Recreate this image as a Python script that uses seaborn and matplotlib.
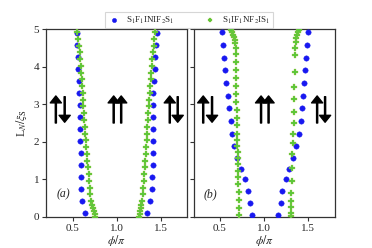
import matplotlib
matplotlib.use("Agg")
import matplotlib.pyplot as plt
import pandas as pd
import seaborn as sns

# ---- panel (a) ----
blue_L_a = [0.10, 0.42, 0.74, 1.06, 1.38, 1.70, 2.02, 2.34, 2.66, 2.98, 3.30, 3.62, 3.94, 4.26, 4.58, 4.90]
blue_left_a = [0.643, 0.61, 0.60, 0.597, 0.593, 0.59, 0.586, 0.582, 0.582, 0.578, 0.575, 0.571, 0.564, 0.56, 0.553, 0.545]
blue_right_a = [1.346, 1.376, 1.395, 1.40, 1.407, 1.407, 1.407, 1.41, 1.41, 1.41, 1.415, 1.42, 1.43, 1.437, 1.444, 1.45]

green_L_a = [0.0, 0.08, 0.16, 0.24, 0.32, 0.42, 0.6, 0.78, 0.96, 1.14, 1.32, 1.5, 1.68, 1.86, 2.04, 2.22,
             2.4, 2.58, 2.76, 2.94, 3.12, 3.3, 3.48, 3.66, 3.84, 4.02, 4.2, 4.38, 4.56, 4.74, 4.92]
green_left_a = [0.758, 0.75, 0.74, 0.732, 0.72, 0.711, 0.70, 0.692, 0.686, 0.68, 0.674, 0.668, 0.662, 0.656, 0.65, 0.643,
                0.637, 0.631, 0.626, 0.621, 0.616, 0.612, 0.608, 0.603, 0.598, 0.592, 0.586, 0.579, 0.571, 0.563, 0.553]
green_right_a = [1.25, 1.258, 1.266, 1.273, 1.279, 1.285, 1.292, 1.298, 1.303, 1.308, 1.314, 1.32, 1.326, 1.332, 1.337, 1.341,
                 1.345, 1.349, 1.357, 1.365, 1.37, 1.374, 1.378, 1.385, 1.392, 1.398, 1.404, 1.41, 1.416, 1.422, 1.437]

# ---- panel (b) ----
blue_L_b = [0.04, 0.38, 0.70, 1.0, 1.28, 1.57, 1.88, 2.2, 2.56, 2.9, 3.22, 3.56, 3.9, 4.24, 4.58, 4.91]
blue_left_b = [0.86, 0.842, 0.818, 0.786, 0.738, 0.692, 0.66, 0.638, 0.62, 0.60, 0.586, 0.572, 0.562, 0.549, 0.537, 0.521]
blue_right_b = [1.16, 1.186, 1.206, 1.25, 1.287, 1.326, 1.362, 1.395, 1.414, 1.427, 1.439, 1.451, 1.462, 1.474, 1.488, 1.50]

green_L_b_left = [0.05, 0.23, 0.45, 0.67, 0.87, 1.06, 1.23, 1.40, 1.56, 1.72, 1.89, 2.05, 2.21, 2.45, 2.62,
                  2.85, 3.05, 3.27, 3.48, 3.69, 3.91, 4.13, 4.33, 4.49, 4.62, 4.71, 4.78, 4.84, 4.91, 4.97]
green_left_b = [0.715, 0.715, 0.715, 0.711, 0.708, 0.707, 0.704, 0.702, 0.70, 0.70, 0.697, 0.697, 0.697, 0.697, 0.693,
                0.69, 0.686, 0.685, 0.682, 0.682, 0.682, 0.682, 0.678, 0.678, 0.674, 0.671, 0.66, 0.648, 0.637, 0.626]
green_L_b_right = [0.03, 0.11, 0.26, 0.43, 0.65, 0.96, 1.31, 1.67, 1.96, 2.21, 2.49, 2.78, 3.14, 3.47, 3.86,
                   4.31, 4.5, 4.66, 4.75, 4.84, 4.91, 4.97]
green_right_b = [1.304, 1.304, 1.304, 1.307, 1.307, 1.315, 1.315, 1.321, 1.326, 1.329, 1.333, 1.333, 1.337, 1.34, 1.344,
                 1.349, 1.352, 1.36, 1.365, 1.371, 1.386, 1.40]

label_blue = r"S$_1$F$_1$INIF$_2$S$_1$"
label_green = r"S$_1$IF$_1$NF$_2$IS$_1$"
panel_tags = ["(a)", "(b)"]

# arrow positions (phi/pi) for the spin pictograms
arrow_up_x = [0.31, 0.965, 1.05, 1.60]
arrow_down_x = [0.41, 1.69]

sns.set_style("ticks")
plt.rcParams["font.family"] = ["Liberation Serif", "DejaVu Serif"]
plt.rcParams["mathtext.fontset"] = "stix"

blue_c = "#1818f0"
green_c = "#5ac83a"

fig, axes = plt.subplots(1, 2, figsize=(3.72, 2.48), dpi=100, sharey=True)
fig.subplots_adjust(left=0.124, right=0.90, top=0.883, bottom=0.125, wspace=0.043)

panels = [
    (blue_L_a, blue_left_a, blue_right_a, green_L_a, green_left_a, green_L_a, green_right_a),
    (blue_L_b, blue_left_b, blue_right_b, green_L_b_left, green_left_b, green_L_b_right, green_right_b),
]

for ax, p, tag in zip(axes, panels, panel_tags):
    bL, bl, br, gLl, gl, gLr, gr = p
    blue = pd.DataFrame({"phi": bl + br, "L": bL + bL})
    green = pd.DataFrame({"phi": gl + gr, "L": gLl + gLr})
    sns.scatterplot(data=blue, x="phi", y="L", ax=ax, marker="o", s=15, color=blue_c,
                    edgecolor=blue_c, linewidth=0.3, label=label_blue, legend=False, zorder=3)
    sns.scatterplot(data=green, x="phi", y="L", ax=ax, marker="P", s=17, color=green_c,
                    edgecolor="#9fbf3a", linewidth=0.2, label=label_green, legend=False, zorder=4)
    for x in arrow_up_x:
        ax.annotate("", xy=(x, 3.22), xytext=(x, 2.5),
                    arrowprops=dict(width=0.8, headwidth=8, headlength=5, color="black", shrink=0))
    for x in arrow_down_x:
        ax.annotate("", xy=(x, 2.52), xytext=(x, 3.2),
                    arrowprops=dict(width=0.8, headwidth=8, headlength=5, color="black", shrink=0))
    ax.text(0.39, 0.6, tag, fontsize=8.5, style="italic", ha="center", va="center")
    ax.set_xlim(0.2, 1.8)
    ax.set_ylim(0, 5)
    ax.set_xticks([0.5, 1.0, 1.5])
    ax.set_yticks([0, 1, 2, 3, 4, 5])
    ax.tick_params(labelsize=8, length=3, width=0.8, pad=2, color="#333333")
    ax.set_xlabel(r"$\phi/\pi$", fontsize=8.5, labelpad=0)
    ax.set_ylabel("")
    for s in ax.spines.values():
        s.set_color("#333333")
        s.set_linewidth(0.9)

axes[0].set_ylabel(r"L$_N/\xi_{\rm S}$", fontsize=8.5, labelpad=3)

handles, labels = axes[0].get_legend_handles_labels()
leg = fig.legend(handles, labels, loc="upper center", bbox_to_anchor=(0.508, 0.968), ncol=2,
                 fontsize=6.5, frameon=True, fancybox=False, edgecolor="#cccccc",
                 borderpad=0.25, handletextpad=0.6, columnspacing=3.2, handlelength=1.5,
                 markerscale=0.8)
leg.get_frame().set_linewidth(0.8)

fig.savefig("out.png", dpi=100)
